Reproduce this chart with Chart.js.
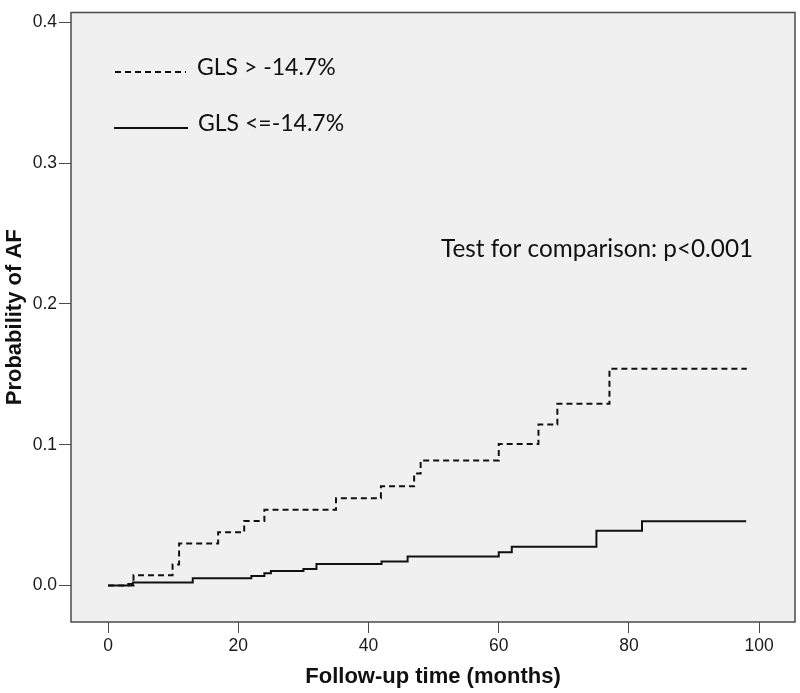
<!DOCTYPE html>
<html>
<head>
<meta charset="utf-8">
<script src="https://cdn.jsdelivr.net/npm/chart.js@4"></script>
<style>
  html, body { margin: 0; padding: 0; background: #ffffff; }
  #wrap { width: 800px; height: 693px; }
</style>
</head>
<body>
<div id="wrap"><canvas id="c" width="800" height="693"></canvas></div>
<script>
// ---- data ----
const highGlsLabel = 'GLS > -14.7%';
const lowGlsLabel = 'GLS <=-14.7%';
const highGlsTimes = [0, 3.9, 9.9, 10.9, 16.9, 20.9, 24.0, 35.0, 41.9, 47.0, 48.0, 60.0, 66.1, 69.0, 77.0, 98.1];
const highGlsProb  = [0, 0.0072, 0.0149, 0.0298, 0.0377, 0.0458, 0.0537, 0.0620, 0.0704, 0.0796, 0.0888, 0.1005, 0.1143, 0.1291, 0.1540, 0.1540];
const lowGlsTimes  = [0, 3.1, 3.8, 13.0, 22.0, 24.0, 25.0, 30.0, 32.0, 42.0, 46.0, 60.0, 62.0, 75.0, 82.0, 98.0];
const lowGlsProb   = [0, 0.0010, 0.0020, 0.0050, 0.0066, 0.0086, 0.0103, 0.0116, 0.0152, 0.0170, 0.0205, 0.0235, 0.0274, 0.0388, 0.0456, 0.0456];
const xTickValues = [0, 20, 40, 60, 80, 100];
const yTickValues = [0, 0.1, 0.2, 0.3, 0.4];
const xAxisTitle = 'Follow-up time (months)';
const yAxisTitle = 'Probability of AF';
const testNote = 'Test for comparison: p<0.001';

const toPoints = (xs, ys) => xs.map((x, i) => ({ x: x, y: ys[i] }));

const frameColor = '#4a4a4a';

const framePlugin = {
  id: 'frame',
  beforeDraw(chart) {
    const { ctx, chartArea: a } = chart;
    ctx.save();
    ctx.fillStyle = '#f0f0f0';
    ctx.fillRect(a.left, a.top, a.right - a.left, a.bottom - a.top);
    ctx.restore();
  },
  afterDraw(chart) {
    const { ctx, chartArea: a } = chart;
    ctx.save();
    ctx.strokeStyle = frameColor;
    ctx.lineWidth = 1.5;
    ctx.strokeRect(a.left, a.top, a.right - a.left, a.bottom - a.top);

    // legend block and test note inside the plot
    ctx.fillStyle = '#111';
    ctx.strokeStyle = '#111';
    ctx.lineWidth = 2;
    ctx.textBaseline = 'middle';
    ctx.font = '23px Lato';
    ctx.setLineDash([6, 4]);
    ctx.beginPath(); ctx.moveTo(115, 72); ctx.lineTo(186, 72); ctx.stroke();
    ctx.setLineDash([]);
    ctx.fillText(highGlsLabel, 197, 68);
    ctx.beginPath(); ctx.moveTo(114, 128); ctx.lineTo(188, 128); ctx.stroke();
    ctx.fillText(lowGlsLabel, 198, 124);
    ctx.font = '24.3px Lato';
    ctx.fillText(testNote, 441, 249);
    ctx.restore();
  }
};

new Chart(document.getElementById('c'), {
  type: 'line',
  data: {
    datasets: [
      {
        label: highGlsLabel,
        data: toPoints(highGlsTimes, highGlsProb),
        stepped: 'before',
        borderColor: '#111',
        borderWidth: 2,
        borderDash: [6, 4],
        pointRadius: 0,
        fill: false
      },
      {
        label: lowGlsLabel,
        data: toPoints(lowGlsTimes, lowGlsProb),
        stepped: 'before',
        borderColor: '#111',
        borderWidth: 2,
        pointRadius: 0,
        fill: false
      }
    ]
  },
  options: {
    responsive: false,
    animation: false,
    layout: { padding: { left: 0, top: 9, right: 5, bottom: 0 } },
    plugins: { legend: { display: false }, tooltip: { enabled: false } },
    scales: {
      x: {
        type: 'linear',
        min: -5.7,
        max: 105.5,
        afterBuildTicks: (s) => { s.ticks = xTickValues.map(v => ({ value: v })); },
        afterFit: (s) => { s.height = 71; },
        grid: { drawOnChartArea: false, drawTicks: true, tickLength: 11, color: frameColor, lineWidth: 1 },
        border: { display: false },
        ticks: { color: '#1a1a1a', padding: 3, maxRotation: 0, autoSkip: false,
                 font: { family: 'Liberation Sans', size: 17.5 } },
        title: { display: true, text: xAxisTitle, color: '#111',
                 font: { family: 'Liberation Sans', size: 22, weight: 'bold', lineHeight: 1 },
                 padding: { top: 0, bottom: 5 } }
      },
      y: {
        type: 'linear',
        min: -0.026,
        max: 0.4071,
        afterBuildTicks: (s) => { s.ticks = yTickValues.map(v => ({ value: v })); },
        afterFit: (s) => { s.width = 71; },
        grid: { drawOnChartArea: false, drawTicks: true, tickLength: 12, color: frameColor, lineWidth: 1 },
        border: { display: false },
        ticks: { color: '#1a1a1a', padding: 2, autoSkip: false,
                 callback: (v) => Number(v).toFixed(1),
                 font: { family: 'Liberation Sans', size: 17.5 } },
        title: { display: true, text: yAxisTitle, color: '#111',
                 font: { family: 'Liberation Sans', size: 22, weight: 'bold', lineHeight: 1 },
                 padding: { top: 4, bottom: 0 } }
      }
    }
  },
  plugins: [framePlugin]
});
</script>
</body>
</html>
